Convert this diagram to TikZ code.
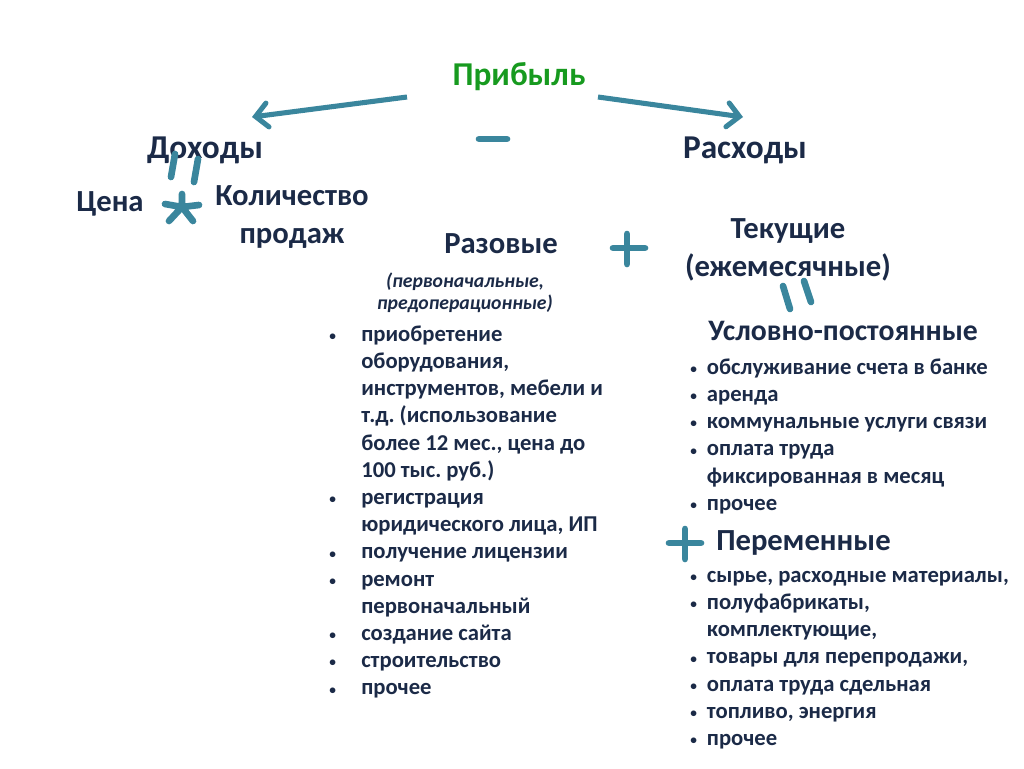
\documentclass[tikz,border=0pt]{standalone}
\usepackage{fontspec}
\setmainfont{Carlito}
\usetikzlibrary{arrows.meta,positioning}
\definecolor{navy}{HTML}{1B2A47}
\definecolor{teal}{HTML}{3A869D}
\definecolor{prgreen}{HTML}{179A1F}
\newcommand{\bl}{\raisebox{0.6pt}{\fontsize{10}{10}\selectfont\textbullet}}
\frenchspacing

\begin{document}
\begin{tikzpicture}[x=0.75pt,y=-0.75pt,
  head/.style={font=\bfseries\fontsize{25}{30}\selectfont,text=navy,inner sep=0pt},
  sub/.style={font=\bfseries\fontsize{23}{28.5}\selectfont,text=navy,inner sep=0pt,align=center},
  lst/.style={font=\bfseries\fontsize{17}{20.4}\selectfont,text=navy,inner sep=0pt,anchor=north west},
  stroke/.style={draw=teal,line width=5pt,line cap=round},
  arr/.style={draw=teal,line width=3.8pt,-{Straight Barb[length=9pt,width=18pt,line cap=round]}}]
  \useasboundingbox (0,0) rectangle (1024,768);

  \node[head,text=prgreen,anchor=base] (pr) at (519,85) {Прибыль};
  \node[head,anchor=base] (doh) at (205,158) {Доходы};
  \node[head,anchor=base] (ras) at (745,158) {Расходы};

  \node[sub,anchor=base] (cena) at (110,211) {Цена};
  \node[sub,anchor=base] (kol) at (292,243) {Количество\\продаж};

  \node[sub,anchor=base] (raz) at (501,253) {Разовые};
  \node[font=\bfseries\itshape\fontsize{14.8}{15.8}\selectfont,text=navy,inner sep=0pt,align=center,anchor=base]
    (razi) at (465,309) {(первоначальные,\\предоперационные)};
  \node[sub,anchor=base] (tek) at (788,276) {Текущие\\(ежемесячные)};

  \node[sub,font=\bfseries\fontsize{22.3}{28}\selectfont,anchor=base west] (usl) at (708,340) {Условно-постоянные};
  \node[sub,anchor=base west] (per) at (716,550) {Переменные};

  \node[lst] (lraz) at (329,322) {%
    \begin{tabular}{@{}p{24pt}@{}l@{}}
    \bl & приобретение\\
        & оборудования,\\
        & инструментов, мебели и\\
        & т.д. (использование\\
        & более 12 мес., цена до\\
        & 100 тыс. руб.)\\
    \bl & регистрация\\
        & юридического лица, ИП\\
    \bl & получение лицензии\\
    \bl & ремонт\\
        & первоначальный\\
    \bl & создание сайта\\
    \bl & строительство\\
    \bl & прочее
    \end{tabular}};

  \node[lst] (lusl) at (690,355) {%
    \begin{tabular}{@{}p{12.5pt}@{}l@{}}
    \bl & обслуживание счета в банке\\
    \bl & аренда\\
    \bl & коммунальные услуги связи\\
    \bl & оплата труда\\
        & фиксированная в месяц\\
    \bl & прочее
    \end{tabular}};

  \node[lst] (lper) at (690,563) {%
    \begin{tabular}{@{}p{12.5pt}@{}l@{}}
    \bl & сырье, расходные материалы,\\
    \bl & полуфабрикаты,\\
        & комплектующие,\\
    \bl & товары для перепродажи,\\
    \bl & оплата труда сдельная\\
    \bl & топливо, энергия\\
    \bl & прочее
    \end{tabular}};

  \coordinate (a1s) at (407,97);
  \coordinate (a1e) at (252,117);
  \coordinate (a2s) at (598,97);
  \coordinate (a2e) at (743,117);
  \draw[arr] (a1s) -- (a1e);
  \draw[arr] (a2s) -- (a2e);

  \draw[stroke] (479,139) -- (507,139);
  \draw[stroke] (175,154) -- (171,177);
  \draw[stroke] (198,159) -- (194,182);
  \draw[stroke] (182,207) -- (182,194) (182,207) -- (165,204) (182,207) -- (199,205)
    (182,207) -- (169,221) (182,207) -- (193,221);
  \draw[stroke] (613,248) -- (645,248) (627,234) -- (627,264);
  \draw[stroke] (783,286) -- (790,309);
  \draw[stroke] (804,281) -- (811,302);
  \draw[stroke] (669,543) -- (701,543) (685,529) -- (685,559);
\end{tikzpicture}
\end{document}
